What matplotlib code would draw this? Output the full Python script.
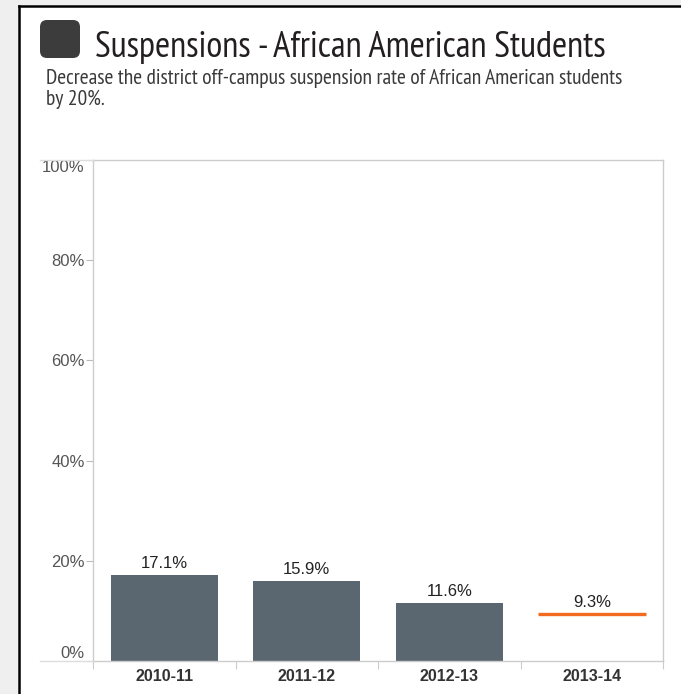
import matplotlib.pyplot as plt
from matplotlib.patches import FancyBboxPatch, Rectangle
from matplotlib.lines import Line2D

# data
years = ['2010-11', '2011-12', '2012-13', '2013-14']
actual = [17.1, 15.9, 11.6]   # bars
target = 9.3                  # goal line for 2013-14
yticks = [0, 20, 40, 60, 80, 100]

bar_color = '#5b6770'
goal_color = '#f26b21'
grey_line = '#cccccc'
narrow = ['PT Sans Narrow', 'Archivo Narrow', 'Liberation Sans']

plt.rcParams['font.family'] = ['Liberation Sans', 'DejaVu Sans']

fig = plt.figure(figsize=(6.81, 6.94), dpi=100)
fig.patch.set_facecolor('white')

# page frame: grey margin + black edge
fig.patches.append(Rectangle((0, 0), 18 / 681, 1, transform=fig.transFigure,
                             facecolor='#efefef', edgecolor='none', zorder=0))
fig.patches.append(Rectangle((0, 1 - 5 / 694), 1, 5 / 694, transform=fig.transFigure,
                             facecolor='#efefef', edgecolor='none', zorder=0))
fig.lines.append(Line2D([19 / 681, 19 / 681], [0, 1 - 6 / 694], transform=fig.transFigure,
                        color='black', lw=1.8))
fig.lines.append(Line2D([19 / 681, 1], [1 - 6 / 694, 1 - 6 / 694], transform=fig.transFigure,
                        color='black', lw=1.8))

# title block
fig.patches.append(FancyBboxPatch((0.40, 6.36), 0.40, 0.38,
                                  boxstyle='round,pad=0,rounding_size=0.07',
                                  transform=fig.dpi_scale_trans,
                                  facecolor='#3c3c3c', edgecolor='none'))
fig.text(95 / 681, 1 - 57 / 694, 'Suspensions - African American Students',
         family=narrow, fontsize=26.5, color='#231f20', va='baseline', ha='left')
fig.text(46 / 681, 1 - 84 / 694,
         'Decrease the district off-campus suspension rate of African American students',
         family=narrow, fontsize=15.5, color='#3a3a3a', va='baseline', ha='left')
fig.text(46 / 681, 1 - 105 / 694, 'by 20%.',
         family=narrow, fontsize=15.5, color='#3a3a3a', va='baseline', ha='left')

ax = fig.add_axes([93 / 681, 33 / 694, 570 / 681, 501 / 694])
x = list(range(len(years)))

ax.bar(x[:3], actual, width=0.75, color=bar_color, zorder=2)
ax.hlines(target, x[3] - 0.38, x[3] + 0.38, color=goal_color, lw=2.4, zorder=3)

for i, v in enumerate(actual + [target]):
    ax.annotate('%.1f%%' % v, (i, v), xytext=(0, 3), textcoords='offset points',
                ha='center', va='bottom', fontsize=12, color='#222222')

ax.set_xlim(-0.5, len(years) - 0.5)
ax.set_ylim(0, 100)

ax.set_yticks(yticks)
ylabels = ax.set_yticklabels(['%d%%' % t for t in yticks])
ylabels[0].set_va('bottom')
ylabels[-1].set_va('top')
ax.tick_params(axis='y', length=5, width=0.8, color='#bbbbbb', pad=1,
               labelsize=12, labelcolor='#555555')

ax.set_xticks(x)
ax.set_xticklabels(years, fontweight='bold')
ax.set_xticks([i - 0.5 for i in range(len(years) + 1)], minor=True)
ax.tick_params(axis='x', which='major', length=0, pad=6, labelsize=11.5,
               labelcolor='#333333')
ax.tick_params(axis='x', which='minor', length=6, width=0.8, color='#cccccc')

for s in ax.spines.values():
    s.set_color(grey_line)
    s.set_linewidth(1)

# top and bottom rules run out to the left under the tick labels
for yy in (160, 661):
    fig.lines.append(Line2D([40 / 681, 93 / 681], [1 - yy / 694, 1 - yy / 694],
                            transform=fig.transFigure, color='#dddddd', lw=1))

fig.savefig('out.png', dpi=100)
